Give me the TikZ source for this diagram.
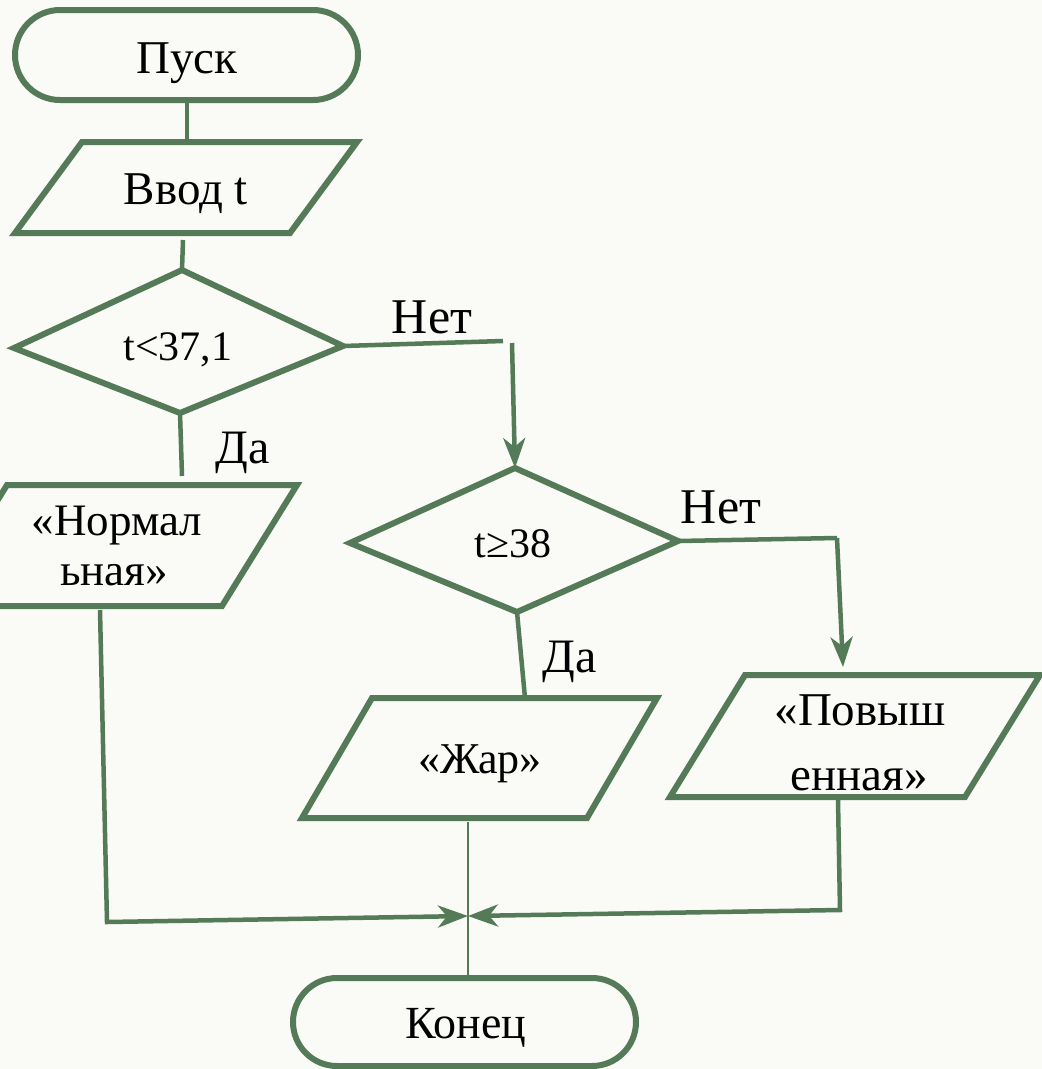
\documentclass[tikz,border=0pt]{standalone}
\usepackage{fontspec}
\setmainfont{Liberation Serif}
\usetikzlibrary{arrows.meta}
\definecolor{fg}{RGB}{84,122,87}
\definecolor{bg}{RGB}{250,250,247}
\begin{document}
\begin{tikzpicture}[x=1pt,y=-1pt,
  shapeline/.style={draw=fg,line width=6pt,line join=miter},
  conn/.style={draw=fg,line width=4.5pt},
  thinconn/.style={draw=fg,line width=2.8pt},
  arr/.style={-{Stealth[length=30pt,width=22pt,inset=9pt]}},
  txt/.style={font=\fontsize{#1}{#1}\selectfont,inner sep=0pt,anchor=base,text=black},
  txt/.default=46]
\useasboundingbox[fill=bg] (0,0) rectangle (1042,1069);
% shapes
\draw[shapeline,rounded corners=45pt] (15,10) rectangle (358,100);
\draw[shapeline] (82,142) -- (357,142) -- (290,233) -- (15,233) -- cycle;
\draw[shapeline] (182,270) -- (343,346) -- (180,413) -- (14,348) -- cycle;
\draw[shapeline] (7,485) -- (297,485) -- (222,606) -- (-68,606) -- cycle;
\draw[shapeline] (515,468) -- (678,541) -- (517,612) -- (350,543) -- cycle;
\draw[shapeline] (372,698) -- (657,698) -- (587,818) -- (302,818) -- cycle;
\draw[shapeline] (745,675) -- (1040,675) -- (965,797) -- (670,797) -- cycle;
\draw[shapeline,rounded corners=44pt] (293,978) rectangle (636,1066);
% text nodes
\node[txt=47] (pusk) at (187,73) {Пуск};
\node[txt=47] (vvod) at (186,204) {Ввод t};
\node[txt=42] (d1) at (178,360) {t<37,1};
\node[txt=45] (norma) at (117,535) {«Нормал};
\node[txt=45] (normb) at (114,585) {ьная»};
\node[txt=42] (d2) at (513,557) {t≥38};
\node[txt=44] (zhar) at (480,773) {«Жар»};
\node[txt=47] (pova) at (860,725) {«Повыш};
\node[txt=47] (povb) at (859,790) {енная»};
\node[txt=46] (konec) at (466,1038) {Конец};
\node[txt=50] (net1) at (432,333) {Нет};
\node[txt=48] (da1) at (243,463) {Да};
\node[txt=50] (net2) at (721,523) {Нет};
\node[txt=48] (da2) at (570,672) {Да};
% connector points
\coordinate (pB) at (187,100); \coordinate (vT) at (187,142);
\coordinate (vB) at (183,240); \coordinate (d1T) at (182,270);
\coordinate (d1R) at (343,346); \coordinate (n1a) at (503,341);
\coordinate (n1b) at (512,343); \coordinate (d2T) at (515,468);
\coordinate (d1B) at (180,413); \coordinate (nT) at (182,476);
\coordinate (nB) at (100,610); \coordinate (nC) at (107,922);
\coordinate (j) at (468,916);
\coordinate (d2R) at (678,541); \coordinate (n2a) at (837,538);
\coordinate (pT) at (843,667);
\coordinate (d2B) at (517,612); \coordinate (zT) at (525,698);
\coordinate (zB) at (468,822); \coordinate (kT) at (468,978);
\coordinate (pvB) at (838,800); \coordinate (pvC) at (840,910);
% connectors
\draw[conn] (pB) -- (vT);
\draw[conn] (vB) -- (d1T);
\draw[conn] (d1R) -- (n1a);
\draw[conn,arr] (n1b) -- (d2T);
\draw[conn] (d1B) -- (nT);
\draw[conn,arr] (nB) -- (nC) -- (j);
\draw[conn] (d2R) -- (n2a);
\draw[conn,arr] (n2a) -- (pT);
\draw[conn] (d2B) -- (zT);
\draw[thinconn] (zB) -- (kT);
\draw[conn,arr] (pvB) -- (pvC) -- (j);
\end{tikzpicture}
\end{document}
